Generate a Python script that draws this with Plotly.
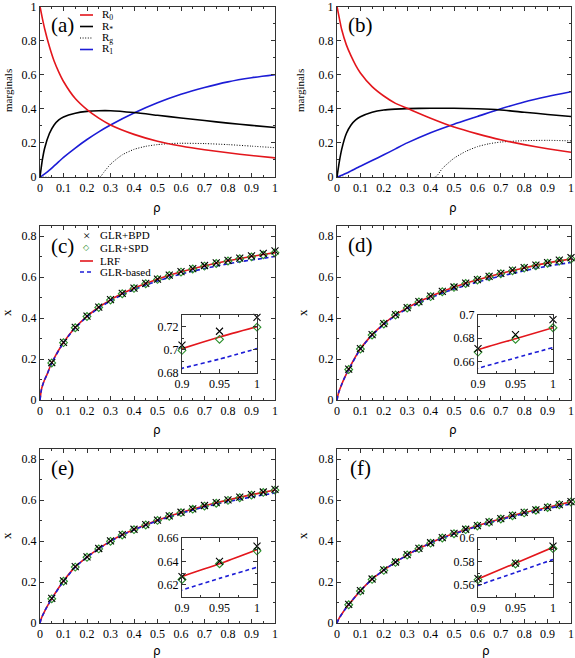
import plotly.graph_objects as go

W, H = 575, 658

# ---- panels (a) and (b): marginals vs rho ----
rho_m = [0, 0.01, 0.02, 0.04, 0.06, 0.08, 0.1, 0.15, 0.2, 0.25, 0.3, 0.4, 0.5, 0.6, 0.7, 0.8, 0.9, 1.0]

a_R0 = [1.0, 0.93, 0.868, 0.765, 0.68, 0.615, 0.56, 0.46, 0.395, 0.345, 0.305, 0.25, 0.21, 0.182, 0.16, 0.142, 0.126, 0.112]
a_Rs = [0, 0.10, 0.17, 0.255, 0.305, 0.335, 0.352, 0.374, 0.385, 0.389, 0.389, 0.378, 0.362, 0.346, 0.331, 0.316, 0.303, 0.29]
a_R1 = [0, 0.008, 0.018, 0.04, 0.065, 0.09, 0.115, 0.17, 0.22, 0.265, 0.305, 0.375, 0.435, 0.485, 0.525, 0.558, 0.582, 0.6]
a_rho_g = [0, 0.255, 0.27, 0.3, 0.35, 0.4, 0.45, 0.5, 0.55, 0.6, 0.7, 0.8, 0.9, 1.0]
a_Rg = [0, 0, 0.025, 0.075, 0.13, 0.162, 0.18, 0.19, 0.196, 0.198, 0.196, 0.19, 0.181, 0.172]

b_R0 = [1.0, 0.93, 0.865, 0.775, 0.71, 0.655, 0.61, 0.53, 0.475, 0.432, 0.403, 0.345, 0.293, 0.253, 0.218, 0.19, 0.166, 0.145]
b_Rs = [0, 0.09, 0.162, 0.255, 0.305, 0.335, 0.353, 0.38, 0.393, 0.398, 0.401, 0.403, 0.403, 0.40, 0.393, 0.38, 0.367, 0.355]
b_R1 = [0, 0.004, 0.01, 0.022, 0.036, 0.05, 0.063, 0.097, 0.13, 0.165, 0.20, 0.26, 0.31, 0.355, 0.40, 0.44, 0.472, 0.5]
b_rho_g = [0, 0.42, 0.45, 0.5, 0.55, 0.6, 0.65, 0.7, 0.8, 0.9, 1.0]
b_Rg = [0, 0, 0.05, 0.11, 0.15, 0.178, 0.195, 0.205, 0.213, 0.215, 0.212]

# ---- panels (c)-(f): x vs rho ----
rho_line = [0, 0.005, 0.01, 0.02, 0.03, 0.05, 0.1, 0.15, 0.2, 0.25, 0.3, 0.35, 0.4, 0.45, 0.5,
            0.55, 0.6, 0.65, 0.7, 0.75, 0.8, 0.85, 0.9, 0.95, 1.0]
rho_pts = [0.05, 0.1, 0.15, 0.2, 0.25, 0.3, 0.35, 0.4, 0.45, 0.5,
           0.55, 0.6, 0.65, 0.7, 0.75, 0.8, 0.85, 0.9, 0.95, 1.0]

c_lrf = [0, 0.045, 0.068, 0.1, 0.125, 0.182, 0.281, 0.354, 0.409, 0.453, 0.489, 0.52, 0.546, 0.569, 0.59,
         0.609, 0.626, 0.641, 0.655, 0.668, 0.680, 0.691, 0.701, 0.711, 0.720]
c_glr = [0, 0.045, 0.068, 0.1, 0.125, 0.181, 0.28, 0.352, 0.406, 0.449, 0.484, 0.514, 0.539, 0.561, 0.581,
         0.599, 0.615, 0.629, 0.642, 0.654, 0.665, 0.675, 0.684, 0.692, 0.701]
c_bpd = [0.183, 0.281, 0.355, 0.41, 0.454, 0.49, 0.521, 0.547, 0.57, 0.591,
         0.61, 0.627, 0.642, 0.657, 0.67, 0.682, 0.693, 0.704, 0.716, 0.728]
c_spd = [0.181, 0.28, 0.353, 0.408, 0.452, 0.488, 0.519, 0.545, 0.568, 0.589,
         0.608, 0.625, 0.64, 0.654, 0.667, 0.679, 0.69, 0.6995, 0.709, 0.7195]

d_lrf = [0, 0.028, 0.046, 0.076, 0.103, 0.15, 0.25, 0.318, 0.372, 0.416, 0.45, 0.48, 0.506, 0.53, 0.551,
         0.57, 0.587, 0.603, 0.618, 0.632, 0.645, 0.658, 0.670, 0.6795, 0.689]
d_glr = [0, 0.028, 0.046, 0.076, 0.103, 0.149, 0.249, 0.316, 0.369, 0.412, 0.445, 0.474, 0.499, 0.522, 0.542,
         0.56, 0.576, 0.591, 0.605, 0.618, 0.631, 0.643, 0.654, 0.663, 0.672]
d_bpd = [0.151, 0.251, 0.319, 0.373, 0.417, 0.451, 0.481, 0.507, 0.531, 0.552,
         0.571, 0.588, 0.604, 0.619, 0.634, 0.647, 0.659, 0.671, 0.683, 0.696]
d_spd = [0.149, 0.249, 0.317, 0.371, 0.415, 0.449, 0.479, 0.505, 0.529, 0.55,
         0.569, 0.586, 0.602, 0.617, 0.631, 0.644, 0.656, 0.668, 0.679, 0.689]

e_lrf = [0, 0.02, 0.034, 0.058, 0.08, 0.119, 0.205, 0.274, 0.322, 0.363, 0.4, 0.431, 0.457, 0.48, 0.502,
         0.522, 0.54, 0.557, 0.573, 0.587, 0.601, 0.614, 0.627, 0.638, 0.65]
e_glr = [0, 0.02, 0.034, 0.058, 0.08, 0.118, 0.204, 0.273, 0.321, 0.362, 0.399, 0.43, 0.455, 0.4775, 0.499,
         0.5185, 0.536, 0.552, 0.567, 0.5805, 0.593, 0.6045, 0.6155, 0.6255, 0.635]
e_bpd = [0.12, 0.206, 0.275, 0.323, 0.364, 0.401, 0.432, 0.458, 0.481, 0.503,
         0.523, 0.541, 0.558, 0.574, 0.588, 0.602, 0.615, 0.627, 0.64, 0.653]
e_spd = [0.118, 0.204, 0.273, 0.321, 0.362, 0.399, 0.43, 0.456, 0.479, 0.501,
         0.521, 0.539, 0.556, 0.571, 0.585, 0.599, 0.612, 0.6245, 0.638, 0.649]

f_lrf = [0, 0.014, 0.025, 0.043, 0.06, 0.09, 0.157, 0.214, 0.258, 0.297, 0.333, 0.364, 0.391, 0.416, 0.437,
         0.457, 0.475, 0.493, 0.509, 0.525, 0.539, 0.552, 0.565, 0.5785, 0.592]
f_glr = [0, 0.014, 0.025, 0.043, 0.06, 0.09, 0.157, 0.214, 0.258, 0.297, 0.332, 0.363, 0.39, 0.4145, 0.435,
         0.4545, 0.472, 0.4895, 0.505, 0.5205, 0.534, 0.5465, 0.5594, 0.5705, 0.5816]
f_bpd = [0.091, 0.158, 0.215, 0.259, 0.298, 0.334, 0.365, 0.392, 0.417, 0.438,
         0.458, 0.476, 0.494, 0.51, 0.526, 0.54, 0.553, 0.5653, 0.5786, 0.593]
f_spd = [0.089, 0.156, 0.213, 0.257, 0.296, 0.332, 0.363, 0.39, 0.415, 0.436,
         0.456, 0.474, 0.492, 0.508, 0.524, 0.538, 0.551, 0.5644, 0.5778, 0.591]

inset_ranges = {7: [0.68, 0.73], 8: [0.65, 0.70], 9: [0.61, 0.66], 10: [0.55, 0.60]}

RED = "#e3161c"
BLUE = "#1c1cd6"
GREEN = "#2b8f2b"
FRAME = "#333333"
SERIF = "Liberation Serif"

# pixel boxes (left, right, top, bottom) of each subplot
boxes = {
    1: (40, 275, 6.5, 177),
    2: (337, 571, 6.5, 177),
    3: (40, 275, 226, 400),
    4: (337, 571, 226, 400),
    5: (40, 275, 449, 623),
    6: (337, 571, 449, 623),
    7: (182, 257, 315, 373),
    8: (478, 553, 315, 373),
    9: (182, 257, 538, 596.5),
    10: (478, 553, 538, 596.5),
}


def px(x):
    return x / W


def py(y):
    return 1 - y / H


def ax(k):
    return ("x", "y") if k == 1 else ("x%d" % k, "y%d" % k)


fig = go.Figure()

# marginals panels
for k, R0, Rs, R1, rg_x, Rg in [(1, a_R0, a_Rs, a_R1, a_rho_g, a_Rg),
                                (2, b_R0, b_Rs, b_R1, b_rho_g, b_Rg)]:
    xa, ya = ax(k)
    fig.add_trace(go.Scatter(x=rg_x, y=Rg, mode="lines",
                             line=dict(color="black", width=1, dash="1px,1.6px", shape="spline", smoothing=0.6),
                             xaxis=xa, yaxis=ya))
    for yy, col in [(R1, BLUE), (Rs, "black"), (R0, RED)]:
        fig.add_trace(go.Scatter(x=rho_m, y=yy, mode="lines",
                                 line=dict(color=col, width=1.6, shape="spline", smoothing=0.6),
                                 xaxis=xa, yaxis=ya))

# x panels and their insets
for k, kin, lrf, glr, bpd, spd in [(3, 7, c_lrf, c_glr, c_bpd, c_spd),
                                   (4, 8, d_lrf, d_glr, d_bpd, d_spd),
                                   (5, 9, e_lrf, e_glr, e_bpd, e_spd),
                                   (6, 10, f_lrf, f_glr, f_bpd, f_spd)]:
    for kk, sl in [(k, slice(None)), (kin, slice(-3, None))]:
        xa, ya = ax(kk)
        fig.add_trace(go.Scatter(x=rho_line, y=lrf, mode="lines",
                                 line=dict(color=RED, width=1.6, shape="spline", smoothing=0.6),
                                 xaxis=xa, yaxis=ya))
        fig.add_trace(go.Scatter(x=rho_line, y=glr, mode="lines",
                                 line=dict(color=BLUE, width=1.6, dash="4px,3px", shape="spline", smoothing=0.6),
                                 xaxis=xa, yaxis=ya))
        fig.add_trace(go.Scatter(x=rho_pts[sl], y=spd[sl], mode="markers", cliponaxis=False,
                                 marker=dict(symbol="diamond-open", size=6, color=GREEN, line=dict(width=1.1)),
                                 xaxis=xa, yaxis=ya))
        fig.add_trace(go.Scatter(x=rho_pts[sl], y=bpd[sl], mode="markers", cliponaxis=False,
                                 marker=dict(symbol="x-thin-open", size=7, color="black",
                                             line=dict(width=1.1, color="black")),
                                 xaxis=xa, yaxis=ya))

# axes
layout = {}
for k, (l, r, t, b) in boxes.items():
    sx = "" if k == 1 else str(k)
    common = dict(showline=True, linecolor=FRAME, linewidth=1, mirror="ticks", ticks="inside",
                  ticklen=4, tickcolor=FRAME, showgrid=False, zeroline=False, automargin=False,
                  ticklabeloverflow="allow",
                  tickfont=dict(family=SERIF, size=12, color="black"))
    if k <= 6:
        xa = dict(common, domain=[px(l), px(r)], range=[0, 1], dtick=0.1, tick0=0,
                  minor=dict(ticks="inside", ticklen=2, dtick=0.05, tickcolor=FRAME))
        yr = [0, 1] if k <= 2 else [0, 0.85]
        ya = dict(common, domain=[py(b), py(t)], range=yr, dtick=0.2, tick0=0,
                  minor=dict(ticks="inside", ticklen=2, dtick=0.1, tickcolor=FRAME))
    else:
        xa = dict(common, domain=[px(l), px(r)], range=[0.9, 1.0], dtick=0.05, tick0=0.9,
                  minor=dict(ticks="inside", ticklen=2, dtick=0.025, tickcolor=FRAME))
        ya = dict(common, domain=[py(b), py(t)], range=inset_ranges[k], dtick=0.02, tick0=0,
                  minor=dict(ticks="inside", ticklen=2, dtick=0.01, tickcolor=FRAME))
    xa["anchor"] = "y" + sx
    ya["anchor"] = "x" + sx
    layout["xaxis" + sx] = xa
    layout["yaxis" + sx] = ya

annotations = []
shapes = []


def text(x, y, s, size=12, family=SERIF, color="black", angle=0, xanchor="center"):
    annotations.append(dict(x=px(x), y=py(y), xref="paper", yref="paper", text=s, showarrow=False,
                            font=dict(family=family, size=size, color=color), textangle=angle,
                            xanchor=xanchor, yanchor="middle"))


# panel labels
for lab, (x, y) in zip(["(a)", "(b)", "(c)", "(d)", "(e)", "(f)"],
                       [(62, 25), (360, 25), (62, 246), (360, 245), (62, 468), (360, 468)]):
    text(x, y, lab, size=21)

# axis titles
for x in (8, 300):
    text(x, 91, "marginals", size=11, angle=-90)
for y in (313, 536):
    text(6, y, "x", size=13, angle=-90)
    text(302, y, "x", size=13, angle=-90)
for (x, y) in [(157, 208), (453, 208), (157, 430), (453, 430), (157, 651), (486, 651)]:
    text(x, y, "ρ", size=12, family="DejaVu Sans")

# legend of (a)
leg_a = [("R<sub>0</sub>", RED, "solid", 15), ("R<sub>*</sub>", "black", "solid", 26.5),
         ("R<sub>g</sub>", "black", "1px,1.6px", 38), ("R<sub>1</sub>", BLUE, "solid", 49.5)]
for s, col, dash, y in leg_a:
    shapes.append(dict(type="line", xref="paper", yref="paper", x0=px(80), x1=px(93), y0=py(y), y1=py(y),
                       line=dict(color=col, width=1.6 if dash == "solid" else 1, dash=dash)))
    text(100, y, s, size=11, xanchor="left")

# legend of (c)
text(86, 235, "×", size=13, xanchor="center")
text(86, 248, "◇", size=8, color=GREEN, family="DejaVu Sans", xanchor="center")
shapes.append(dict(type="line", xref="paper", yref="paper", x0=px(80), x1=px(93), y0=py(261), y1=py(261),
                   line=dict(color=RED, width=1.6)))
shapes.append(dict(type="line", xref="paper", yref="paper", x0=px(80), x1=px(93), y0=py(272), y1=py(272),
                   line=dict(color=BLUE, width=1.6, dash="4px,3px")))
for s, y in [("GLR+BPD", 235), ("GLR+SPD", 248), ("LRF", 261), ("GLR-based", 272)]:
    text(98, y, s, size=11, xanchor="left")

fig.update_layout(**layout)
fig.update_layout(width=W, height=H, margin=dict(l=0, r=0, t=0, b=0), showlegend=False,
                  plot_bgcolor="white", paper_bgcolor="white",
                  annotations=annotations, shapes=shapes)

fig.write_html("out.html", config={"displayModeBar": False},
               post_script="document.body.style.margin = '0px';")
